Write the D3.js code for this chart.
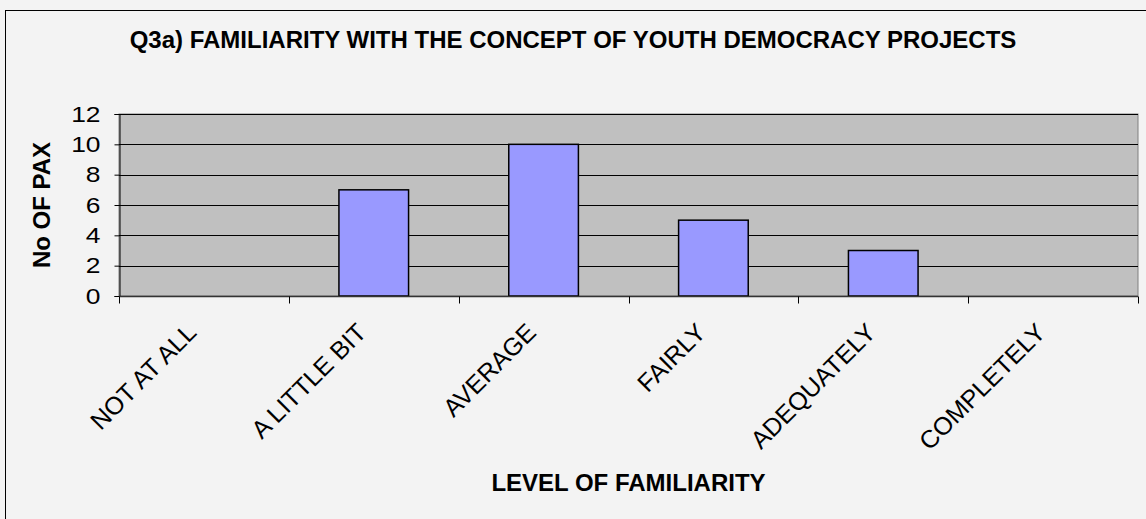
<!DOCTYPE html>
<html><head><meta charset="utf-8">
<script src="https://cdn.jsdelivr.net/npm/d3@7"></script>
<style>body{margin:0;background:#f3f3f3;} svg{display:block;font-family:"Liberation Sans",Arial,sans-serif;}</style>
</head><body>
<svg id="c" width="1146" height="519"></svg>
<script>
const categories = ["NOT AT ALL","A LITTLE BIT","AVERAGE","FAIRLY","ADEQUATELY","COMPLETELY"];
const values = [0,7,10,5,3,0];
const yTicks = [0,2,4,6,8,10,12];
const title = "Q3a) FAMILIARITY WITH THE CONCEPT OF YOUTH DEMOCRACY PROJECTS";
const xTitle = "LEVEL OF FAMILIARITY";
const yTitle = "No OF PAX";

const svg = d3.select("#c");
svg.append("rect").attr("width",1146).attr("height",519).attr("fill","#f3f3f3");
svg.append("rect").attr("x",5.5).attr("y",10.5).attr("width",1200).attr("height",600)
  .attr("fill","none").attr("stroke","#000").attr("stroke-width",1);

const L=119, R=1138, T=114, B=296;
const x = d3.scaleBand().domain(categories).range([L,R]);
const y = d3.scaleLinear().domain([0,12]).range([B,T]);

svg.append("rect").attr("x",L).attr("y",T).attr("width",R-L).attr("height",B-T)
  .attr("fill","#c0c0c0").attr("stroke","#808080").attr("stroke-width",1);

// gridlines
svg.append("g").selectAll("line").data(yTicks.filter(d=>d>0)).join("line")
  .attr("x1",L).attr("x2",R).attr("y1",d=>Math.round(y(d))+0.5).attr("y2",d=>Math.round(y(d))+0.5)
  .attr("stroke","#000").attr("stroke-width",1);

// bars
const bw = x.bandwidth()*0.41;
svg.append("g").selectAll("rect").data(values.map((v,i)=>({c:categories[i],v}))).join("rect")
  .filter(d=>d.v>0)
  .attr("x",d=>x(d.c)+x.bandwidth()/2-bw/2).attr("y",d=>y(d.v))
  .attr("width",bw).attr("height",d=>B-y(d.v))
  .attr("fill","#9999ff").attr("stroke","#000").attr("stroke-width",1.5);

// y axis
const yAxis = svg.append("g").attr("transform",`translate(${L+0.5},0)`)
  .call(d3.axisLeft(y).tickValues(yTicks).tickSize(5).tickPadding(14));
yAxis.select(".domain").attr("stroke","#000");
yAxis.selectAll(".tick line").attr("stroke","#000");
yAxis.selectAll(".tick text").attr("font-size",22).attr("fill","#000")
  .attr("font-family","'Liberation Sans',Arial,sans-serif")
  .each(function(){
    const t=d3.select(this); const w=this.getComputedTextLength();
    t.attr("textLength",w*1.2).attr("lengthAdjust","spacingAndGlyphs");
  });

// x axis
const xAxis = svg.append("g").attr("transform",`translate(0,${B+0.5})`);
xAxis.append("line").attr("x1",L).attr("x2",R).attr("stroke","#333").attr("stroke-width",1.5);
const bounds = categories.map(c=>x(c)).concat([R]);
xAxis.selectAll("line.tk").data(bounds).join("line").attr("class","tk")
  .attr("x1",d=>Math.round(d)+0.5).attr("x2",d=>Math.round(d)+0.5).attr("y1",0).attr("y2",7)
  .attr("stroke","#000");
svg.append("g").selectAll("text").data(categories).join("text")
  .attr("transform",d=>`translate(${x(d)+x.bandwidth()/2-6},334) rotate(-45)`)
  .attr("text-anchor","end").attr("font-size",25).attr("fill","#000").text(d=>d);

// titles
svg.append("text").attr("x",573).attr("y",48).attr("text-anchor","middle")
  .attr("font-size",24).attr("font-weight","bold").text(title);
svg.append("text").attr("x",(L+R)/2).attr("y",491).attr("text-anchor","middle")
  .attr("font-size",24).attr("font-weight","bold").text(xTitle);
svg.append("text").attr("transform",`translate(50,${(T+B)/2}) rotate(-90)`).attr("text-anchor","middle")
  .attr("font-size",24).attr("font-weight","bold").text(yTitle);
</script>
</body></html>
